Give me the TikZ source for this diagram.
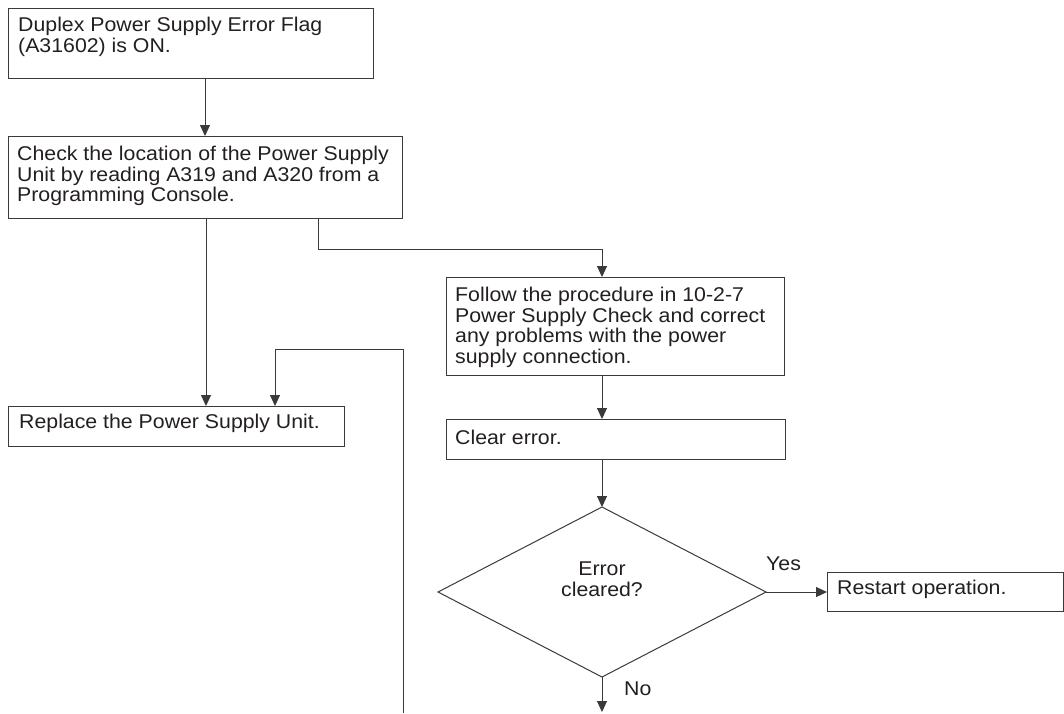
\documentclass[tikz,border=0pt]{standalone}
\usepackage{fontspec}
\setmainfont{Liberation Sans}[FakeStretch=1.07]
\usetikzlibrary{arrows.meta,shapes.geometric,calc}
\definecolor{linec}{HTML}{3A3A3A}
\definecolor{txtc}{HTML}{231F20}
\begin{document}
\begin{tikzpicture}[x=1pt,y=-1pt,
  every node/.style={font=\fontsize{19.9}{20.5}\selectfont, text=txtc},
  fbox/.style={draw=linec, line width=1pt, inner sep=0pt, outer sep=0pt, anchor=north west},
  lbl/.style={anchor=north west, inner sep=0pt, align=left},
  conn/.style={draw=linec, line width=1pt},
  arr/.style={conn, -{Triangle[length=11pt,width=10pt]}},
]
\useasboundingbox (0,0) rectangle (1064,713);

\node[fbox, minimum width=365pt, minimum height=70pt,
  label={[lbl, shift={(10pt,-9pt)}]north west:{Duplex Power Supply Error Flag\\(A31602) is ON.}}] (n1) at (8,8) {};
\node[fbox, minimum width=394pt, minimum height=82pt,
  label={[lbl, shift={(9pt,-10pt)}]north west:{Check the location of the Power Supply\\Unit by reading A319 and A320 from a\\Programming Console.}}] (n2) at (8,136) {};
\node[fbox, minimum width=336pt, minimum height=40pt,
  label={[lbl, shift={(11pt,-8pt)}]north west:{Replace the Power Supply Unit.}}] (n3) at (8,406) {};
\node[fbox, minimum width=338pt, minimum height=98pt,
  label={[lbl, shift={(9pt,-10pt)}]north west:{Follow the procedure in 10-2-7\\Power Supply Check and correct\\any problems with the power\\supply connection.}}] (n4) at (446,277) {};
\node[fbox, minimum width=339pt, minimum height=40pt,
  label={[lbl, shift={(9pt,-11pt)}]north west:{Clear error.}}] (n5) at (446,419) {};
\node[diamond, draw=linec, line width=1pt, inner sep=0pt, outer sep=0pt, aspect=1.93,
  minimum width=328pt, minimum height=170pt,
  label={[align=center, inner sep=0pt, yshift=13pt]center:{Error\\cleared?}}] (d) at (602,592) {};
\node[fbox, minimum width=236pt, minimum height=39pt,
  label={[lbl, shift={(10pt,-8pt)}]north west:{Restart operation.}}] (n6) at (827,572) {};

\node[lbl] (yes) at (766,557) {Yes};
\node[lbl] (no) at (624,682) {No};

\coordinate (xa) at (205,0);
\coordinate (xb) at (206,0);
\coordinate (c1) at (318,249);
\coordinate (x3) at (275,0);
\coordinate (c2) at (403,349);
\coordinate (e1) at (602,712);
\coordinate (e2) at (403,713);

\draw[arr] (n1.south -| xa) -- (n2.north -| xa);
\draw[arr] (n2.south -| xb) -- (n3.north -| xb);
\draw[arr] (n2.south -| c1) -- (c1) -| (n4.north -| d.north);
\draw[arr] (n4.south -| d.north) -- (n5.north -| d.north);
\draw[arr] (n5.south -| d.north) -- (d.north);
\draw[arr] (d.east) -- (d.east -| n6.west);
\draw[arr] (d.south) -- (e1);
\draw[arr] (e2) -- (c2) -| (n3.north -| x3);
\end{tikzpicture}
\end{document}
